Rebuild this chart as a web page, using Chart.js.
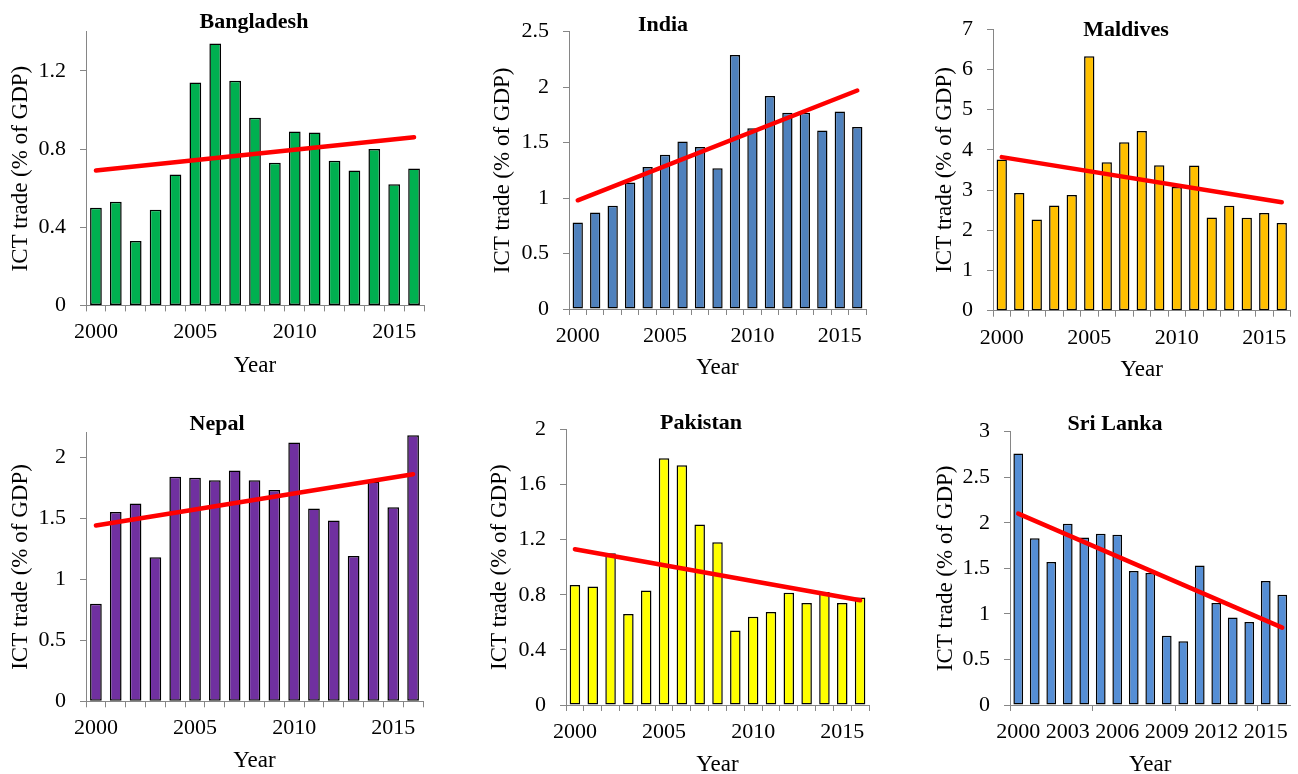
<!DOCTYPE html>
<html>
<head>
<meta charset="utf-8">
<script src="https://cdn.jsdelivr.net/npm/chart.js@4.4.0/dist/chart.umd.min.js"></script>
<style>
html,body{margin:0;padding:0;background:#fff;overflow:hidden;width:1298px;height:774px;}
canvas{position:absolute;}
</style>
</head>
<body>
<script>
// ---------- data ----------
const years = ['2000','2001','2002','2003','2004','2005','2006','2007','2008','2009','2010','2011','2012','2013','2014','2015','2016'];

const bangladesh      = [0.50,0.53,0.33,0.49,0.67,1.14,1.34,1.15,0.96,0.73,0.89,0.885,0.74,0.69,0.80,0.62,0.70];
const bangladeshTrend = [0.69,0.86];
const india           = [0.78,0.87,0.93,1.14,1.28,1.39,1.51,1.46,1.27,2.29,1.63,1.92,1.77,1.77,1.61,1.78,1.64];
const indiaTrend      = [0.98,1.97];
const maldives        = [3.76,2.93,2.27,2.62,2.88,6.33,3.69,4.19,4.47,3.62,3.08,3.61,2.32,2.61,2.31,2.43,2.18];
const maldivesTrend   = [3.82,2.70];
const nepal           = [0.80,1.55,1.62,1.18,1.84,1.83,1.81,1.89,1.81,1.73,2.12,1.58,1.48,1.19,1.80,1.59,2.18];
const nepalTrend      = [1.44,1.86];
const pakistan        = [0.87,0.86,1.10,0.66,0.83,1.79,1.74,1.31,1.18,0.54,0.64,0.675,0.815,0.74,0.82,0.74,0.78];
const pakistanTrend   = [1.13,0.76];
const sriLanka        = [2.76,1.83,1.57,1.99,1.84,1.88,1.87,1.47,1.45,0.76,0.70,1.53,1.12,0.96,0.91,1.36,1.21];
const sriLankaTrend   = [2.10,0.85];

const countries   = ['Bangladesh','India','Maldives','Nepal','Pakistan','Sri Lanka'];
const seriesList  = [bangladesh, india, maldives, nepal, pakistan, sriLanka];
const trendList   = [bangladeshTrend, indiaTrend, maldivesTrend, nepalTrend, pakistanTrend, sriLankaTrend];
const yMax        = [1.4, 2.5, 7, 2.2, 2, 3];
const yStep       = [0.4, 0.5, 1, 0.5, 0.4, 0.5];
const labelEvery  = [5, 5, 5, 5, 5, 3];
const markEvery   = [1, 1, 1, 1, 1, 5];
const yTitle = 'ICT trade (% of GDP)';
const xTitle = 'Year';

// ---------- styles / layout ----------
const barColors = ['#00B050','#4F81BD','#FFC000','#7030A0','#FFFF00','#558ED5'];
const trendColor = '#FF0000';
const axisColor = '#868686';
const FONT = 'Liberation Serif';
// canvas box [left, top, right, bottom], plot area [left, top, right, bottom]
const layout = [
  {box:[0,0,430,385],      plot:[86,31.8,424,305.4],   titleAt:[254,28.3], yTitleX:21,   xTitleY:366},
  {box:[430,0,870,385],    plot:[569,31.7,866,309],    titleAt:[233,31],   yTitleX:73,   xTitleY:368},
  {box:[870,0,1298,385],   plot:[993,29.3,1290.5,310.7],titleAt:[256,36],  yTitleX:75,   xTitleY:370},
  {box:[0,385,430,780],    plot:[86,432.7,423,701.3],  titleAt:[217,45],   yTitleX:20.5, xTitleY:761},
  {box:[430,385,870,780],  plot:[566,429.3,869,705],   titleAt:[271,44.3], yTitleX:69.7, xTitleY:765},
  {box:[870,385,1298,780], plot:[1010,431.7,1290.5,705],titleAt:[245,45],  yTitleX:75.8, xTitleY:765}
];

const panelTitle = {
  id: 'panelTitle',
  afterDraw(chart, args, opts) {
    const ctx = chart.ctx;
    ctx.save();
    ctx.font = 'bold 22px "' + FONT + '"';
    ctx.fillStyle = '#000';
    ctx.textAlign = 'center';
    ctx.textBaseline = 'alphabetic';
    ctx.fillText(opts.text, opts.x, opts.y);
    ctx.restore();
  }
};

for (let p = 0; p < 6; p++) {
  const L = layout[p];
  const [bl, bt, br, bb] = L.box;
  const [pl, pt, pr, pb] = L.plot;
  const cv = document.createElement('canvas');
  cv.width = br - bl; cv.height = bb - bt;
  cv.style.left = bl + 'px'; cv.style.top = bt + 'px';
  document.body.appendChild(cv);

  const yAxisW = pl - bl;
  const xAxisH = bb - pb;
  const step = yStep[p];
  const every = labelEvery[p];
  const mark = markEvery[p];
  const trend = trendList[p];

  new Chart(cv, {
    type: 'bar',
    data: {
      labels: years,
      datasets: [
        {
          type: 'line',
          data: [{x: years[0], y: trend[0]}, {x: years[years.length - 1], y: trend[1]}],
          borderColor: trendColor, borderWidth: 4.5, pointRadius: 0,
          borderCapStyle: 'round', fill: false, tension: 0, order: 0
        },
        {
          type: 'bar',
          data: seriesList[p],
          backgroundColor: barColors[p],
          borderColor: '#000', borderWidth: 1.5, borderSkipped: false,
          barPercentage: 0.59, categoryPercentage: 1, order: 1
        }
      ]
    },
    options: {
      responsive: false, animation: false,
      layout: {padding: {left: 0, top: pt - bt, right: br - pr, bottom: 0}},
      plugins: {
        legend: {display: false}, tooltip: {enabled: false}, title: {display: false},
        panelTitle: {text: countries[p], x: L.titleAt[0], y: L.titleAt[1]}
      },
      scales: {
        x: {
          type: 'category', offset: true,
          grid: {display: true, drawOnChartArea: false, drawTicks: true, tickLength: 6, offset: true,
                 tickColor: ctx => (ctx.index !== undefined ? (ctx.index % mark === 0 ? axisColor : 'rgba(0,0,0,0)') : (mark === 1 ? axisColor : 'rgba(0,0,0,0)'))},
          border: {display: true, color: axisColor, width: 1},
          ticks: {autoSkip: false, maxRotation: 0, minRotation: 0, padding: 8, color: '#000',
                  font: {family: FONT, size: 22},
                  callback: function(v, i) { return i % every === 0 ? this.getLabelForValue(v) : ''; }},
          title: {display: true, text: xTitle, color: '#000', font: {family: FONT, size: 23},
                  padding: {top: 0, bottom: (bb - L.xTitleY) - 13.8}},
          afterFit: s => { s.height = xAxisH; }
        },
        y: {
          type: 'linear', min: 0, max: yMax[p],
          grid: {display: true, drawOnChartArea: false, drawTicks: true, tickLength: 6, tickColor: axisColor},
          border: {display: true, color: axisColor, width: 1},
          ticks: {stepSize: step, padding: 14, color: '#000', font: {family: FONT, size: 22},
                  callback: v => String(+v.toFixed(2))},
          afterBuildTicks: s => {
            s.ticks = s.ticks.filter(t => Math.abs(t.value / step - Math.round(t.value / step)) < 1e-6);
          },
          title: {display: true, text: yTitle, color: '#000', font: {family: FONT, size: 23},
                  padding: {top: L.yTitleX - 13.8, bottom: 0}},
          afterFit: s => { s.width = yAxisW; }
        }
      }
    },
    plugins: [panelTitle]
  });
}
</script>
</body>
</html>
